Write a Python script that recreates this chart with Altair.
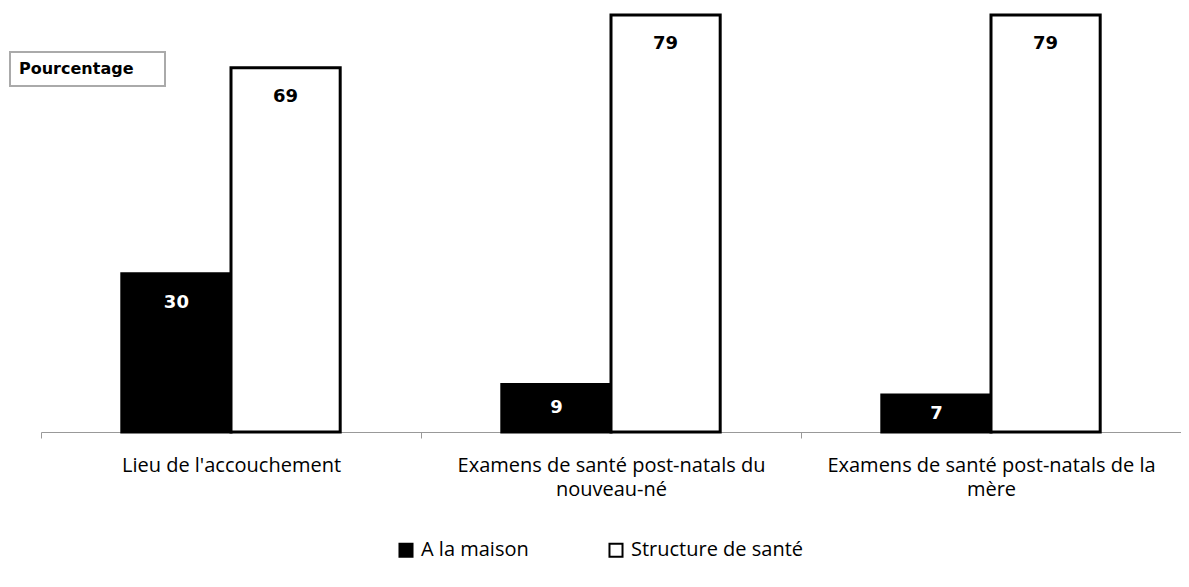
import altair as alt
import pandas as pd

categories = ["Lieu de l'accouchement",
              "Examens de santé post-natals du\nnouveau-né",
              "Examens de santé post-natals de la\nmère"]
series = ["A la maison", "Structure de santé"]
maison = [30, 9, 7]
structure = [69, 79, 79]

rows = []
for c, a, b in zip(categories, maison, structure):
    rows.append({"cat": c, "serie": series[0], "value": a})
    rows.append({"cat": c, "serie": series[1], "value": b})
df = pd.DataFrame(rows)

FONT = "Open Sans"

base = alt.Chart(df).encode(
    x=alt.X("cat:N", sort=categories,
            scale=alt.Scale(paddingInner=0, paddingOuter=0),
            axis=alt.Axis(title=None, labelAngle=0, tickBand="extent",
                          labelExpr="split(datum.label, '\\n')",
                          labelFont=FONT, labelFontSize=20, labelColor="black",
                          labelPadding=17, labelLineHeight=24, labelLimit=400,
                          domainColor="#999999", tickColor="#999999",
                          tickSize=6, grid=False)),
    xOffset=alt.XOffset("serie:N", sort=series,
                        scale=alt.Scale(paddingInner=0, paddingOuter=0.74)),
)

bars = base.mark_bar(stroke="black", strokeWidth=3).encode(
    y=alt.Y("value:Q", scale=alt.Scale(domain=[0, 79], nice=False),
            axis=None),
    fill=alt.Fill("serie:N", sort=series,
                  scale=alt.Scale(domain=series, range=["black", "white"]),
                  legend=alt.Legend(title=None, orient="none", direction="horizontal",
                                    legendX=355, legendY=525,
                                    symbolType="square", symbolSize=170,
                                    symbolStrokeColor="black", symbolStrokeWidth=2,
                                    labelFont=FONT, labelFontSize=20, labelLimit=300,
                                    labelColor="black", columnPadding=76,
                                    labelOffset=5)),
)

labels = base.mark_text(font="DejaVu Sans", fontWeight="bold", fontSize=18,
                        baseline="middle").transform_calculate(
    ly="max(datum.value - 5.5, datum.value / 2)"
).encode(
    y=alt.Y("ly:Q", scale=alt.Scale(domain=[0, 79], nice=False)),
    text=alt.Text("value:Q"),
    color=alt.Color("serie:N", sort=series,
                    scale=alt.Scale(domain=series, range=["white", "black"]),
                    legend=None),
)

box_df = pd.DataFrame({"t": ["Pourcentage"]})
box = alt.Chart(box_df).mark_rect(fill="white", stroke="#aaaaaa", strokeWidth=2).encode(
    x=alt.value(-31), x2=alt.value(124), y=alt.value(37), y2=alt.value(71))
box_text = alt.Chart(box_df).mark_text(font="DejaVu Sans", fontWeight="bold",
                                       fontSize=16, align="left", baseline="middle",
                                       color="black").encode(
    x=alt.value(-22), y=alt.value(54), text="t:N")

chart = alt.layer(bars, labels, box, box_text).resolve_scale(
    color="independent"
).properties(
    width=1140, height=417,
    autosize=alt.AutoSizeParams(type="none"),
    padding={"left": 33, "top": 7, "right": 0, "bottom": 147},
).configure_view(stroke=None)

chart.save("out.html", embed_options={"renderer": "svg", "actions": False})
